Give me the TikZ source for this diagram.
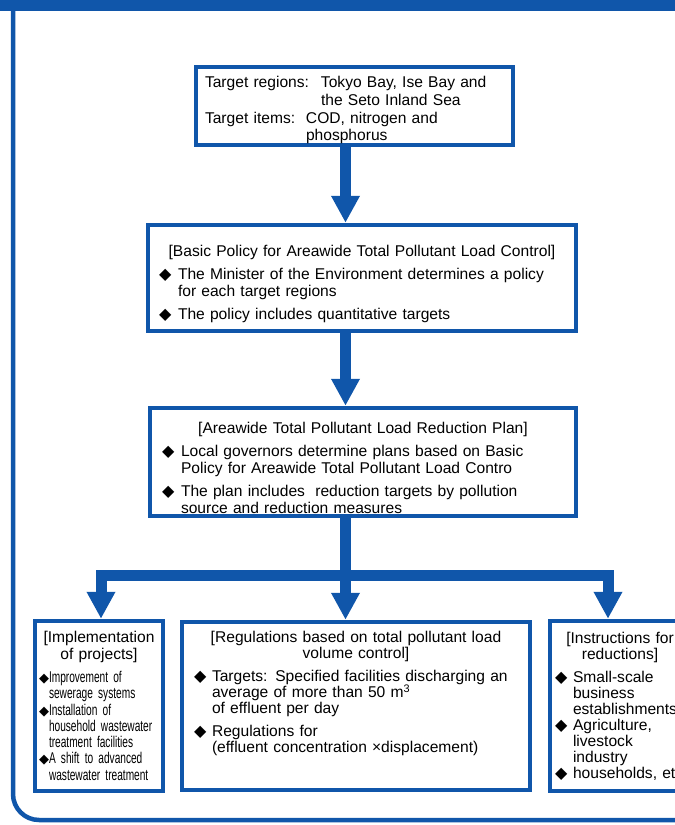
\documentclass[tikz,border=0pt]{standalone}
\usepackage{fontspec}
\setmainfont{Liberation Sans}
\newfontfamily\narrowfont[FakeStretch=0.65]{Liberation Sans}
\newfontfamily\symbfont{DejaVu Sans}
\usetikzlibrary{arrows.meta,positioning}
\definecolor{chartblue}{RGB}{16,86,170}
\newcommand{\dia}[1][16]{{\symbfont\fontsize{#1}{#1}\selectfont ◆}}
\newcommand{\itm}[2]{\par\hangindent=#1\hangafter=1\noindent\makebox[#1][l]{\dia}\ignorespaces#2}
\newcommand{\nitm}[1]{\par\hangindent=10pt\hangafter=1\noindent\makebox[10pt][l]{\dia[13]}{\narrowfont #1}}
\begin{document}
\begin{tikzpicture}[x=1pt,y=-1pt,
  box/.style={draw=chartblue,line width=4.5pt,inner sep=0pt,align=left,
    font=\fontsize{15.6}{17}\selectfont\setlength{\parskip}{6pt}},
  flow/.style={draw=chartblue,line width=11pt,-{Triangle[length=27pt,width=27pt]}},
  flowboth/.style={draw=chartblue,line width=11pt,{Triangle[length=27pt,width=27pt]}-{Triangle[length=27pt,width=27pt]}}]
\useasboundingbox (0,0) rectangle (675,825);
\clip (0,0) rectangle (675,825);
\fill[chartblue] (0,0) rectangle (675,11);
\draw[chartblue,line width=4.5pt,rounded corners=26pt] (13,5) -- (13,820) -- (700,820);

\node[box,minimum width=317pt,minimum height=78pt,text width=299pt,
  font=\fontsize{15.6}{17.7}\selectfont] (target) at (354.5,106)
  {\rule{0pt}{20pt}\makebox[116pt][l]{Target regions:}Tokyo Bay, Ise Bay and\\
   \hspace*{116pt}the Seto Inland Sea\\
   \makebox[101pt][l]{Target items:}COD, nitrogen and\\
   \hspace*{101pt}phosphorus};
\node[box,minimum width=428pt,minimum height=106pt,text width=406pt] (policy) at (362,278)
  {{\centering\rule{0pt}{24pt}[Basic Policy for Areawide Total Pollutant Load Control]\par}
   \itm{19pt}{The Minister of the Environment determines a policy\newline for each target regions}
   \itm{19pt}{The policy includes quantitative targets}\par};
\node[box,minimum width=426pt,minimum height=108pt,text width=402pt] (plan) at (363,462)
  {{\centering\rule{0pt}{24pt}[Areawide Total Pollutant Load Reduction Plan]\par}
   \itm{19pt}{Local governors determine plans based on Basic\newline Policy for Areawide Total Pollutant Load Contro}
   \itm{19pt}{The plan includes\ \ reduction targets by pollution\newline source and reduction measures}\par};

\node[box,minimum width=128pt,minimum height=170pt,text width=120pt,
  font=\fontsize{15.6}{16.3}\selectfont\setlength{\parskip}{0pt}] (impl) at (99,706)
  {{\centering [Implementation\\of projects]\par}\vspace{7pt}
   \nitm{Improvement of\newline sewerage systems}
   \nitm{Installation of\newline household wastewater\newline treatment facilities}
   \nitm{A shift to advanced\newline wastewater treatment}\par};
\node[box,minimum width=348pt,minimum height=168pt,text width=324pt,
  font=\fontsize{15.6}{16.3}\selectfont\setlength{\parskip}{6pt}] (regs) at (356,706)
  {{\centering [Regulations based on total pollutant load\\volume control]\par}
   \itm{18pt}{Targets: Specified facilities discharging an\newline average of more than 50 m\textsuperscript{3}\newline of effluent per day}
   \itm{18pt}{Regulations for\newline (effluent concentration ×displacement)}
   \par\vspace{25pt}\hrule height 0pt};
\node[box,minimum width=140pt,minimum height=170pt,text width=130pt,
  font=\fontsize{15.6}{16}\selectfont\setlength{\parskip}{0pt}] (instr) at (620,706)
  {{\centering [Instructions for\\reductions]\par}\vspace{7pt}
   \itm{18pt}{Small-scale\newline business\newline establishments}
   \itm{18pt}{Agriculture,\newline livestock\newline industry}
   \itm{18pt}{households, etc}\par};

\coordinate (spine) at (345.5,0);
\coordinate (lbend) at (101,575);
\coordinate (rbend) at (608,575);
\draw[flow] (spine |- target.south) -- (spine |- policy.north);
\draw[flow] (spine |- policy.south) -- (spine |- plan.north);
\draw[flow] (spine |- plan.south) -- (spine |- regs.north);
\draw[flowboth] (lbend |- impl.north) -- (lbend) -- (rbend) -- (rbend |- instr.north);
\end{tikzpicture}
\end{document}
